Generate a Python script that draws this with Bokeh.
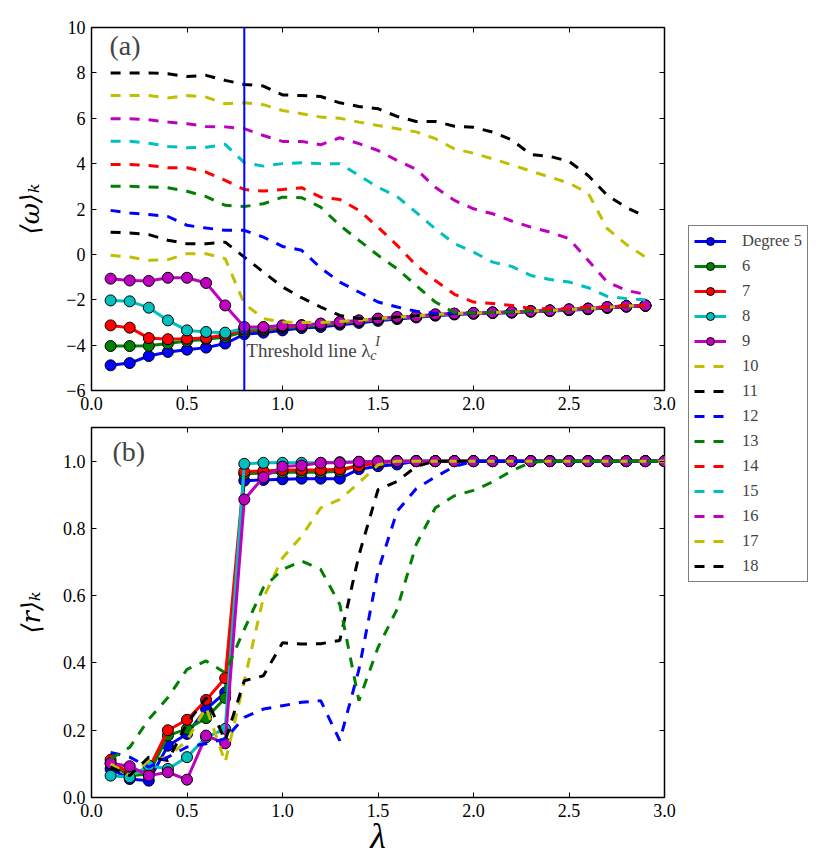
from bokeh.plotting import figure
from bokeh.models import (Range1d, LinearAxis, FixedTicker, Span, Label, Legend,
                          LegendItem, CustomJSTickFormatter)
from bokeh.layouts import row, column
from bokeh.embed import file_html
from bokeh.resources import INLINE

# ---------------- data ----------------
lam_a = [0.1, 0.2, 0.3, 0.4, 0.5, 0.6, 0.7, 0.8, 0.9, 1.0, 1.1, 1.2, 1.3, 1.4, 1.5,
         1.6, 1.7, 1.8, 1.9, 2.0, 2.1, 2.2, 2.3, 2.4, 2.5, 2.6, 2.7, 2.8, 2.9]
lam_b = [0.1, 0.2, 0.3, 0.4, 0.5, 0.6, 0.7, 0.8, 0.9, 1.0, 1.1, 1.2, 1.3, 1.4, 1.5,
         1.6, 1.7, 1.8, 1.9, 2.0, 2.1, 2.2, 2.3, 2.4, 2.5, 2.6, 2.7, 2.8, 2.9, 3.0]

labels = ["Degree 5", "6", "7", "8", "9", "10", "11", "12", "13", "14", "15", "16", "17", "18"]
colors = ["#0000ff", "#008000", "#ff0000", "#00bfbf", "#bf00bf",
          "#bfbf00", "#000000", "#0000ff", "#008000", "#ff0000", "#00bfbf", "#bf00bf",
          "#bfbf00", "#000000"]

# panel (a): <omega>_k
deg5_a = [-4.89, -4.79, -4.48, -4.30, -4.20, -4.11, -3.93, -3.52, -3.45, -3.35, -3.25, -3.20, -3.10, -3.02, -2.93,
          -2.85, -2.78, -2.70, -2.65, -2.62, -2.59, -2.57, -2.53, -2.50, -2.46, -2.42, -2.36, -2.31, -2.27]
deg6_a = [-4.04, -4.04, -4.03, -3.93, -3.82, -3.74, -3.64, -3.40, -3.33, -3.24, -3.18, -3.12, -3.04, -2.96, -2.88,
          -2.81, -2.75, -2.68, -2.63, -2.60, -2.57, -2.55, -2.51, -2.48, -2.44, -2.40, -2.34, -2.29, -2.26]
deg7_a = [-3.13, -3.23, -3.69, -3.74, -3.72, -3.69, -3.54, -3.32, -3.27, -3.20, -3.14, -3.08, -3.01, -2.94, -2.86,
          -2.79, -2.74, -2.67, -2.62, -2.59, -2.57, -2.55, -2.51, -2.48, -2.44, -2.40, -2.34, -2.29, -2.26]
deg8_a = [-2.03, -2.07, -2.35, -2.91, -3.35, -3.42, -3.45, -3.27, -3.22, -3.16, -3.12, -3.06, -2.99, -2.92, -2.85,
          -2.78, -2.73, -2.66, -2.62, -2.59, -2.56, -2.54, -2.50, -2.47, -2.43, -2.39, -2.33, -2.28, -2.25]
deg9_a = [-1.07, -1.15, -1.17, -1.03, -1.03, -1.26, -2.25, -3.20, -3.20, -3.13, -3.13, -3.05, -2.98, -2.91, -2.83,
          -2.76, -2.73, -2.64, -2.61, -2.58, -2.56, -2.54, -2.50, -2.47, -2.42, -2.39, -2.32, -2.28, -2.25]
deg10_a = [-0.04, -0.12, -0.26, -0.23, 0.03, 0.03, -0.19, -2.17, -2.83, -2.98, -3.00, -3.00, -2.96, -2.90, -2.83,
           -2.76, -2.72, -2.65, -2.61, -2.58, -2.56, -2.54, -2.50, -2.47, -2.43, -2.39, -2.33, -2.28, -2.25]
deg11_a = [0.98, 0.94, 0.87, 0.62, 0.47, 0.47, 0.54, -0.12, -0.78, -1.44, -1.91, -2.32, -2.69, -2.83, -2.83,
           -2.76, -2.71, -2.65, -2.61, -2.58, -2.56, -2.54, -2.50, -2.47, -2.43, -2.39, -2.33, -2.28, -2.25]
deg12_a = [1.94, 1.82, 1.76, 1.67, 1.28, 1.16, 1.06, 1.06, 0.76, 0.35, 0.18, -0.60, -1.22, -1.66, -2.10,
           -2.32, -2.51, -2.60, -2.60, -2.58, -2.56, -2.54, -2.50, -2.47, -2.43, -2.39, -2.33, -2.28, -2.25]
deg13_a = [3.00, 3.00, 2.97, 2.94, 2.78, 2.55, 2.16, 2.11, 2.23, 2.52, 2.50, 2.08, 1.28, 0.62, -0.04,
           -0.63, -1.37, -2.10, -2.57, -2.58, -2.56, -2.54, -2.50, -2.47, -2.43, -2.39, -2.33, -2.28, -2.25]
deg14_a = [3.96, 3.96, 3.92, 3.82, 3.82, 3.63, 3.26, 2.86, 2.79, 2.86, 2.94, 2.52, 2.42, 1.94, 1.20,
           0.40, -0.48, -1.15, -1.76, -2.10, -2.17, -2.25, -2.39, -2.40, -2.39, -2.32, -2.32, -2.25, -2.25]
deg15_a = [4.99, 4.99, 4.90, 4.76, 4.70, 4.72, 4.85, 4.04, 3.89, 4.00, 4.04, 4.00, 4.00, 3.48, 2.96,
           2.55, 1.85, 1.13, 0.47, 0.10, -0.34, -0.53, -0.93, -1.11, -1.22, -1.47, -1.85, -1.95, -2.00]
deg16_a = [5.98, 5.98, 5.93, 5.83, 5.76, 5.64, 5.62, 5.54, 5.24, 4.98, 4.98, 4.83, 5.14, 4.88, 4.58,
           4.14, 3.75, 2.96, 2.38, 2.01, 1.79, 1.47, 1.20, 0.98, 0.69, -0.26, -1.22, -1.59, -1.76]
deg17_a = [7.00, 7.00, 7.00, 6.89, 7.00, 6.93, 6.64, 6.68, 6.60, 6.34, 6.20, 6.05, 6.00, 5.83, 5.68,
           5.54, 5.40, 5.10, 4.65, 4.46, 4.21, 3.95, 3.67, 3.41, 3.14, 2.70, 1.14, 0.44, -0.12]
deg18_a = [8.00, 8.00, 8.00, 7.96, 7.84, 7.89, 7.67, 7.49, 7.42, 7.03, 7.00, 6.96, 6.68, 6.52, 6.42,
           6.08, 5.86, 5.86, 5.65, 5.60, 5.39, 5.05, 4.40, 4.32, 4.10, 3.48, 2.60, 2.07, 1.67]

# panel (b): <r>_k
deg5_b = [0.085, 0.055, 0.050, 0.154, 0.189, 0.263, 0.312, 0.942, 0.944, 0.946, 0.948, 0.948, 0.948, 0.976, 0.985,
          0.990, 1.0, 1.0, 1.0, 1.0, 1.0, 1.0, 1.0, 1.0, 1.0, 1.0, 1.0, 1.0, 1.0, 1.0]
deg6_b = [0.100, 0.065, 0.070, 0.184, 0.204, 0.236, 0.296, 0.962, 0.965, 0.967, 0.967, 0.967, 0.970, 0.990, 0.995,
          1.0, 1.0, 1.0, 1.0, 1.0, 1.0, 1.0, 1.0, 1.0, 1.0, 1.0, 1.0, 1.0, 1.0, 1.0]
deg7_b = [0.112, 0.070, 0.085, 0.200, 0.231, 0.290, 0.355, 0.969, 0.971, 0.974, 0.974, 0.974, 0.976, 0.985, 0.995,
          1.0, 1.0, 1.0, 1.0, 1.0, 1.0, 1.0, 1.0, 1.0, 1.0, 1.0, 1.0, 1.0, 1.0, 1.0]
deg8_b = [0.065, 0.060, 0.095, 0.085, 0.120, 0.179, 0.204, 0.992, 0.995, 0.995, 0.995, 0.995, 0.997, 0.998, 1.0,
          1.0, 1.0, 1.0, 1.0, 1.0, 1.0, 1.0, 1.0, 1.0, 1.0, 1.0, 1.0, 1.0, 1.0, 1.0]
deg9_b = [0.102, 0.093, 0.065, 0.075, 0.053, 0.184, 0.161, 0.886, 0.952, 0.984, 0.987, 0.995, 0.995, 0.998, 0.999,
          1.0, 1.0, 1.0, 1.0, 1.0, 1.0, 1.0, 1.0, 1.0, 1.0, 1.0, 1.0, 1.0, 1.0, 1.0]
deg10_b = [0.100, 0.065, 0.110, 0.120, 0.170, 0.268, 0.105, 0.347, 0.594, 0.712, 0.777, 0.861, 0.886, 0.935, 0.989,
           1.0, 1.0, 1.0, 1.0, 1.0, 1.0, 1.0, 1.0, 1.0, 1.0, 1.0, 1.0, 1.0, 1.0, 1.0]
deg11_b = [0.090, 0.065, 0.120, 0.110, 0.220, 0.297, 0.169, 0.347, 0.362, 0.460, 0.456, 0.457, 0.467, 0.720, 0.915,
           0.940, 0.984, 1.0, 1.0, 1.0, 1.0, 1.0, 1.0, 1.0, 1.0, 1.0, 1.0, 1.0, 1.0, 1.0]
deg12_b = [0.134, 0.120, 0.090, 0.120, 0.150, 0.160, 0.175, 0.238, 0.263, 0.273, 0.283, 0.288, 0.169, 0.380, 0.673,
           0.851, 0.918, 0.953, 0.984, 1.0, 1.0, 1.0, 1.0, 1.0, 1.0, 1.0, 1.0, 1.0, 1.0, 1.0]
deg13_b = [0.115, 0.149, 0.233, 0.297, 0.381, 0.406, 0.371, 0.500, 0.624, 0.678, 0.703, 0.678, 0.574, 0.288, 0.446,
           0.560, 0.752, 0.861, 0.897, 0.913, 0.938, 0.971, 0.997, 1.0, 1.0, 1.0, 1.0, 1.0, 1.0, 1.0]

series_a = [deg5_a, deg6_a, deg7_a, deg8_a, deg9_a, deg10_a, deg11_a, deg12_a, deg13_a,
            deg14_a, deg15_a, deg16_a, deg17_a, deg18_a]
series_b = [deg5_b, deg6_b, deg7_b, deg8_b, deg9_b, deg10_b, deg11_b, deg12_b, deg13_b]

threshold = 0.8

x_ticks = [0.0, 0.5, 1.0, 1.5, 2.0, 2.5, 3.0]
x_tick_labels = ["0.0", "0.5", "1.0", "1.5", "2.0", "2.5", "3.0"]
ya_ticks = [-6, -4, -2, 0, 2, 4, 6, 8, 10]
ya_tick_labels = ["\u22126", "\u22124", "\u22122", "0", "2", "4", "6", "8", "10"]
yb_ticks = [0.0, 0.2, 0.4, 0.6, 0.8, 1.0]
yb_tick_labels = ["0.0", "0.2", "0.4", "0.6", "0.8", "1.0"]

SERIF = "Liberation Serif"
DASH = "10 9"


def fmt(tvals, tlabs):
    return CustomJSTickFormatter(args=dict(tv=tvals, tl=tlabs), code="""
        for (let i = 0; i < tv.length; i++) {
            if (Math.abs(tv[i] - tick) < 1e-9) { return tl[i]; }
        }
        return "";
    """)


BLANK = CustomJSTickFormatter(code='return "";')


def make_fig(yr, yt, ytl, fh, mbt, mbb, ylab, ylab_standoff):
    p = figure(frame_width=573, frame_height=fh, x_range=Range1d(0, 3), y_range=yr,
               output_backend="svg", toolbar_location=None,
               min_border_left=91, min_border_right=16, min_border_top=mbt, min_border_bottom=mbb,
               background_fill_color="white", border_fill_color="white")
    p.xgrid.visible = False
    p.ygrid.visible = False
    p.outline_line_color = "black"
    p.outline_line_width = 1.5
    bottom = p.below[0]
    left = p.left[0]
    bottom.ticker = FixedTicker(ticks=x_ticks)
    bottom.formatter = fmt(x_ticks, x_tick_labels)
    left.ticker = FixedTicker(ticks=yt)
    left.formatter = fmt(yt, ytl)
    for ax in (bottom, left):
        ax.axis_line_color = None
        ax.major_tick_in = 5
        ax.major_tick_out = 0
        ax.major_tick_line_color = "black"
        ax.minor_tick_line_color = None
        ax.major_label_text_font = SERIF
        ax.major_label_text_font_size = "18px"
        ax.major_label_text_color = "black"
        ax.major_label_standoff = 6
    left.axis_label = ylab
    left.axis_label_text_font = "DejaVu Serif"
    left.axis_label_text_font_style = "italic"
    left.axis_label_text_font_size = "26px"
    left.axis_label_text_color = "black"
    left.axis_label_standoff = ylab_standoff
    top = LinearAxis(ticker=FixedTicker(ticks=x_ticks), formatter=BLANK,
                     major_tick_in=5, major_tick_out=0, minor_tick_line_color=None,
                     axis_line_color=None, major_label_standoff=0)
    right = LinearAxis(ticker=FixedTicker(ticks=yt), formatter=BLANK,
                       major_tick_in=5, major_tick_out=0, minor_tick_line_color=None,
                       axis_line_color=None, major_label_standoff=0)
    p.add_layout(top, "above")
    p.add_layout(right, "right")
    return p


# ---------------- panel (a) ----------------
pa = make_fig(Range1d(-6, 10), ya_ticks, ya_tick_labels, 363, 27, 25, "\u27e8\u03c9\u27e9\u2096", 18)
for i, ys in enumerate(series_a):
    if i < 5:
        pa.line(lam_a, ys, line_color=colors[i], line_width=3)
        pa.scatter(lam_a, ys, size=11, fill_color=colors[i], line_color="black", line_width=1)
    else:
        pa.line(lam_a, ys, line_color=colors[i], line_width=3, line_dash=DASH)
pa.add_layout(Span(location=threshold, dimension="height", line_color="#0000ff", line_width=2))
pa.add_layout(Label(x=threshold, y=-4.22, x_offset=2, text="Threshold line \u03bb",
                    text_font=SERIF, text_font_size="19px", text_baseline="alphabetic"))
pa.add_layout(Label(x=threshold, y=-4.44, x_offset=126, text="c", text_font=SERIF,
                    text_font_style="italic", text_font_size="14px", text_baseline="alphabetic"))
pa.add_layout(Label(x=threshold, y=-3.82, x_offset=131, text="I", text_font=SERIF,
                    text_font_style="italic", text_font_size="14px", text_baseline="alphabetic"))
pa.add_layout(Label(x=0, y=9.21, x_offset=18, text="(a)", text_font=SERIF,
                    text_font_size="28px", text_baseline="alphabetic"))

# ---------------- panel (b) ----------------
pb = make_fig(Range1d(0, 1.1), yb_ticks, yb_tick_labels, 370, 12, 60, "\u27e8r\u27e9\u2096", 14)
for i, ys in enumerate(series_b):
    if i < 5:
        pb.line(lam_b, ys, line_color=colors[i], line_width=3)
        pb.scatter(lam_b, ys, size=11, fill_color=colors[i], line_color="black", line_width=1)
    else:
        pb.line(lam_b, ys, line_color=colors[i], line_width=3, line_dash=DASH)
pb.add_layout(Label(x=0, y=1.0275, x_offset=21, text="(b)", text_font=SERIF,
                    text_font_size="28px", text_baseline="alphabetic"))
xb = pb.below[0]
xb.axis_label = "\u03bb"
xb.axis_label_text_font = SERIF
xb.axis_label_text_font_style = "italic"
xb.axis_label_text_font_size = "36px"
xb.axis_label_text_color = "black"
xb.axis_label_standoff = -4

# ---------------- legend figure ----------------
# legend samples are drawn from the real series, placed outside this figure's visible range
leg = figure(width=140, height=860, x_range=Range1d(0, 1), y_range=Range1d(100, 101),
             output_backend="svg", toolbar_location=None,
             min_border_left=8, min_border_right=0, min_border_top=225, min_border_bottom=0,
             outline_line_color=None, background_fill_color="white", border_fill_color="white")
leg.axis.visible = False
leg.xgrid.visible = False
leg.ygrid.visible = False
items = []
for i, lab in enumerate(labels):
    if i < 5:
        r1 = leg.line(lam_a, series_a[i], line_color=colors[i], line_width=3)
        r2 = leg.scatter(lam_a, series_a[i], size=11, fill_color=colors[i], line_color="black", line_width=1)
        items.append(LegendItem(label=lab, renderers=[r1, r2]))
    else:
        r1 = leg.line(lam_a, series_a[i], line_color=colors[i], line_width=3, line_dash=DASH)
        items.append(LegendItem(label=lab, renderers=[r1]))
legend = Legend(items=items, location="top_left", margin=0, padding=5, spacing=5,
                glyph_height=20, glyph_width=32, label_height=20, label_standoff=16,
                label_text_font=SERIF, label_text_font_size="16.5px",
                border_line_color="black", border_line_width=1.5, background_fill_alpha=1.0)
leg.add_layout(legend)

layout = row(column(pa, pb), leg)
open("out.html", "w").write(file_html(layout, INLINE))
